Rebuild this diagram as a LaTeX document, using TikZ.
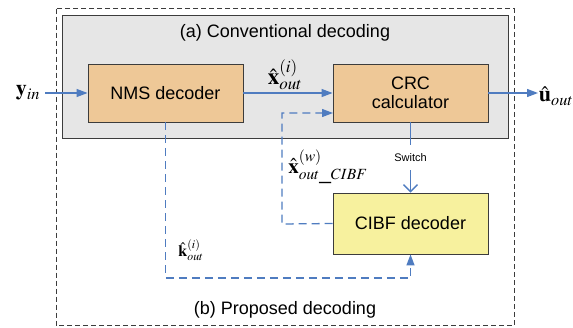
\documentclass[tikz,border=0pt]{standalone}
\usepackage{mathptmx}
\usepackage[no-math]{fontspec}
\setmainfont{Liberation Sans}
\usetikzlibrary{arrows.meta}
\definecolor{lblue}{RGB}{79,124,192}
\definecolor{tanf}{RGB}{238,200,151}
\definecolor{yelf}{RGB}{247,241,158}
\definecolor{grayf}{RGB}{230,230,230}
\definecolor{edge}{RGB}{60,60,60}
\tikzset{
  x=1pt, y=-1pt,
  blockbox/.style={draw=edge, line width=0.9pt, minimum width=155pt, minimum height=58pt, align=center, inner sep=0pt, font=\fontsize{18}{21}\selectfont},
  flow/.style={draw=lblue, line width=1.3pt, -{Triangle[length=11pt,width=8pt]}},
  dflow/.style={flow, dash pattern=on 8pt off 5pt},
  lbl/.style={inner sep=0pt, font=\fontsize{22}{24}\selectfont},
  title/.style={inner sep=0pt, font=\fontsize{18}{21}\selectfont},
}
\begin{document}
\begin{tikzpicture}
\useasboundingbox (0,0) rectangle (573,327);
% outer dashed box
\draw[edge, line width=0.8pt, dash pattern=on 5pt off 3pt] (56,8.5) rectangle (514,325.5);
% gray box
\draw[edge, fill=grayf, line width=0.9pt] (62,15) rectangle (508,138);
\node[title] (ta) at (285,33) {(a) Conventional decoding};
\node[title] (tb) at (285,310) {(b) Proposed decoding};
% blocks
\node[blockbox, fill=tanf] (nms) at (165.5,93) {NMS decoder};
\node[blockbox, fill=tanf] (crc) at (410.5,93) {CRC\\[-2pt]calculator};
\node[blockbox, fill=yelf, minimum height=61pt] (cibf) at (410.5,223.5) {CIBF decoder};
% labels
\node[lbl] (yin) at (28,93) {$\mathbf{y}_{in}$};
\node[lbl] (uout) at (556,96) {$\hat{\mathbf{u}}_{out}$};
\node[lbl, font=\fontsize{23}{25}\selectfont] (xi) at (285,75) {$\hat{\mathbf{x}}^{(i)}_{out}$};
\node[lbl, font=\fontsize{21}{23}\selectfont] (xw) at (328,167) {$\hat{\mathbf{x}}^{(w)}_{out\_CIBF}$};
\node[inner sep=0pt, font=\fontsize{16}{18}\selectfont] (kk) at (191,250) {$\hat{\mathbf{k}}^{(i)}_{out}$};
\node[inner sep=0pt, font=\fontsize{11}{13}\selectfont] (sw) at (410.5,158) {Switch};
% connectors
\coordinate (inS) at (45,93);
\draw[flow] (inS) -- (nms.west);
\draw[flow] (nms.east) -- (crc.west);
\coordinate (outE) at (538,93);
\draw[flow] (crc.east) -- (outE);
\coordinate (d1) at (282,224);
\coordinate (d2) at (282,113);
\coordinate (d3) at (333,113);
\draw[dflow] (cibf.west) -- (d1) -- (d2) -- (d3);
\coordinate (k1) at (410.5,278);
\draw[dflow] (nms.south) |- (k1) -- (cibf.south);
\coordinate (s1) at (410.5,145);
\coordinate (s2) at (410.5,170);
\draw[draw=lblue, line width=1.3pt] (crc.south) -- (s1);
\draw[draw=lblue, line width=1.3pt, -{Straight Barb[length=7pt,width=14pt]}] (s2) -- (cibf.north);
\end{tikzpicture}
\end{document}
